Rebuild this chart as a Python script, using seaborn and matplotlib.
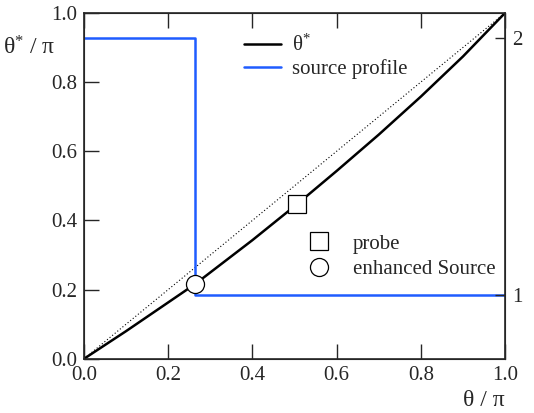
import numpy as np
import pandas as pd
import matplotlib
matplotlib.use('Agg')
import matplotlib.pyplot as plt
import seaborn as sns
from matplotlib.lines import Line2D

# theta* curve
theta = [0.0, 0.1, 0.2, 0.265, 0.4, 0.507, 0.6, 0.7, 0.8, 0.9, 1.0]
theta_star = [0.0, 0.08, 0.163, 0.217, 0.343, 0.448, 0.543, 0.648, 0.758, 0.874, 1.0]

# source profile (step)
src_x = [0.0, 0.265, 1.0]
src_y = [0.926, 0.185, 0.185]

# special points
probe = (0.507, 0.448)
enhanced = (0.265, 0.217)

# right axis labels
right_ticks = [0.185, 0.926]
right_labels = ['1', '2']

sns.set_style('ticks')
plt.rcParams['font.family'] = ['Liberation Serif', 'DejaVu Serif']
plt.rcParams['mathtext.fontset'] = 'custom'
plt.rcParams['mathtext.rm'] = 'Liberation Serif'
plt.rcParams['mathtext.it'] = 'Liberation Serif:italic'

fig = plt.figure(figsize=(5.34, 4.13), dpi=100)
ax = fig.add_axes([0.157, 0.131, 0.789, 0.838])

df = pd.DataFrame({'x': theta, 'y': theta_star})
ax.plot([0, 1], [0, 1], color='black', lw=0.8, ls=(0, (1, 2)))
sns.lineplot(data=df, x='x', y='y', ax=ax, color='black', lw=1.8)
ax.step(src_x, src_y, where='post', color='#1f5cff', lw=1.8)

ax.plot(*probe, marker='s', ms=13, mfc='white', mec='black', mew=0.9, ls='none')
ax.plot(*enhanced, marker='o', ms=13, mfc='white', mec='black', mew=0.9, ls='none')

ax.set_xlim(0, 1)
ax.set_ylim(0, 1)
ax.set_xticks(np.arange(0, 1.01, 0.2))
ax.set_yticks(np.arange(0, 1.01, 0.2))
ax.xaxis.set_major_formatter(matplotlib.ticker.FormatStrFormatter('%.1f'))
ax.yaxis.set_major_formatter(matplotlib.ticker.FormatStrFormatter('%.1f'))
ax.tick_params(direction='in', length=11, width=1, labelsize=15, top=True, pad=5)
ax.tick_params(axis='x', pad=5)
for s in ax.spines.values():
    s.set_linewidth(1.2)
    s.set_visible(True)
ax.set_xlabel('')
ax.set_ylabel('')

ax2 = ax.twinx()
ax2.set_ylim(0, 1)
ax2.set_yticks(right_ticks)
ax2.set_yticklabels(right_labels)
ax2.tick_params(direction='in', length=7, width=1, labelsize=15, pad=5)

fig.text(0.005, 0.885, 'θ$^{*}$ / π', fontsize=17, ha='left', va='center')
fig.text(0.945, 0.03, 'θ / π', fontsize=17, ha='right', va='center')

h1 = [Line2D([], [], color='black', lw=1.8), Line2D([], [], color='#1f5cff', lw=1.8)]
leg1 = ax.legend(h1, ['θ$^{*}$', 'source profile'], loc='upper left',
                 bbox_to_anchor=(0.335, 0.99), frameon=False, fontsize=15,
                 handlelength=1.8, handletextpad=0.5, labelspacing=0.15)
ax.add_artist(leg1)
h2 = [Line2D([], [], marker='s', ms=13, mfc='white', mec='black', mew=0.9, ls='none'),
      Line2D([], [], marker='o', ms=13, mfc='white', mec='black', mew=0.9, ls='none')]
ax.legend(h2, ['probe', 'enhanced Source'], loc='upper left',
          bbox_to_anchor=(0.465, 0.415), frameon=False, fontsize=15,
          handletextpad=0.6, labelspacing=0.3)

fig.savefig('out.png', dpi=100)
